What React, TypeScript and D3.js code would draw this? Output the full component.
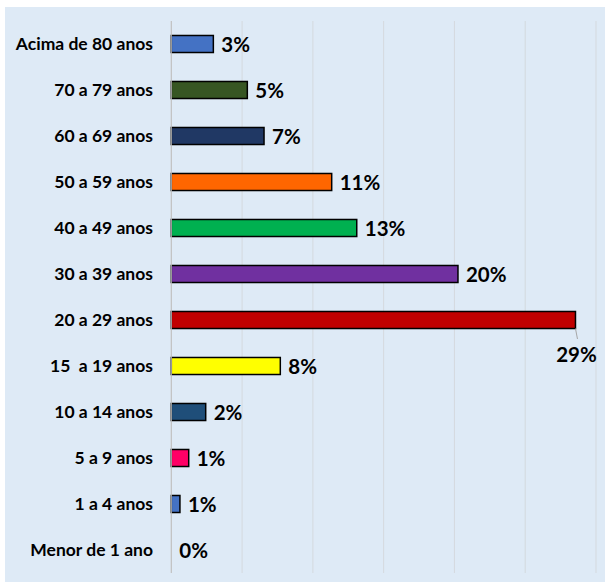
import React from "react";
import * as d3 from "d3";

const categories = [
  "Acima de 80 anos",
  "70 a 79 anos",
  "60 a 69 anos",
  "50 a 59 anos",
  "40 a 49 anos",
  "30 a 39 anos",
  "20 a 29 anos",
  "15  a 19 anos",
  "10 a 14 anos",
  "5 a 9 anos",
  "1 a 4 anos",
  "Menor de 1 ano",
];
const values = [0.0297, 0.0537, 0.0655, 0.1133, 0.131, 0.2025, 0.2855, 0.077, 0.0243, 0.0123, 0.0061, 0];
const labels = ["3%", "5%", "7%", "11%", "13%", "20%", "29%", "8%", "2%", "1%", "1%", "0%"];
const colors = [
  "#4472C4", "#375623", "#203864", "#FF6600", "#00B050", "#7030A0",
  "#C00000", "#FFFF00", "#1F4E79", "#FF0066", "#4472C4", "#4472C4",
];
const xTicks = [0, 0.05, 0.1, 0.15, 0.2, 0.25, 0.3];

export default function App() {
  const W = 605, H = 582;
  const x = d3.scaleLinear().domain([0, 0.3]).range([171.3, 596]);
  const y = d3.scaleBand<string>().domain(categories).range([21, 573]).paddingInner(0.63).paddingOuter(0.315);
  const bw = y.bandwidth();
  const font = "Lato, 'Open Sans', sans-serif";
  return (
    <svg width={W} height={H} style={{ position: "absolute", left: 0, top: 0 }}>
      <rect x={0} y={0} width={W} height={H} fill="#ffffff" />
      <rect x={5} y={7} width={600} height={575} fill="#DEEAF6" />
      {xTicks.map((t) => (
        <line key={t} x1={x(t)} x2={x(t)} y1={21} y2={573} stroke="#D4D9DE" strokeWidth={1} />
      ))}
      {categories.map((c, i) => {
        const cy = (y(c) as number) + bw / 2;
        const end = x(values[i]);
        const isMax = i === 6;
        return (
          <g key={c}>
            <text
              x={153}
              y={cy + 6}
              textAnchor="end"
              fontFamily={font}
              fontWeight="bold"
              fontSize={17.5}
              fill="#000"
              style={{ whiteSpace: "pre" }}
            >
              {c}
            </text>
            {values[i] > 0 && (
              <rect
                x={x(0)}
                y={y(c) as number}
                width={end - x(0)}
                height={bw}
                fill={colors[i]}
                stroke="#000"
                strokeWidth={1.5}
              />
            )}
            {isMax ? (
              <>
                <line x1={end} y1={cy + bw / 2} x2={end + 2} y2={cy + 19} stroke="#A6A6A6" strokeWidth={1} />
                <text x={end + 1} y={cy + 42} textAnchor="middle" fontFamily={font} fontWeight="bold" fontSize={20.5} fill="#000">
                  {labels[i]}
                </text>
              </>
            ) : (
              <text x={end + 8} y={cy + 7.5} fontFamily={font} fontWeight="bold" fontSize={20.5} fill="#000">
                {labels[i]}
              </text>
            )}
          </g>
        );
      })}
      <line x1={x(0)} x2={x(0)} y1={21} y2={573} stroke="#BFBFBF" strokeWidth={1} />
    </svg>
  );
}
